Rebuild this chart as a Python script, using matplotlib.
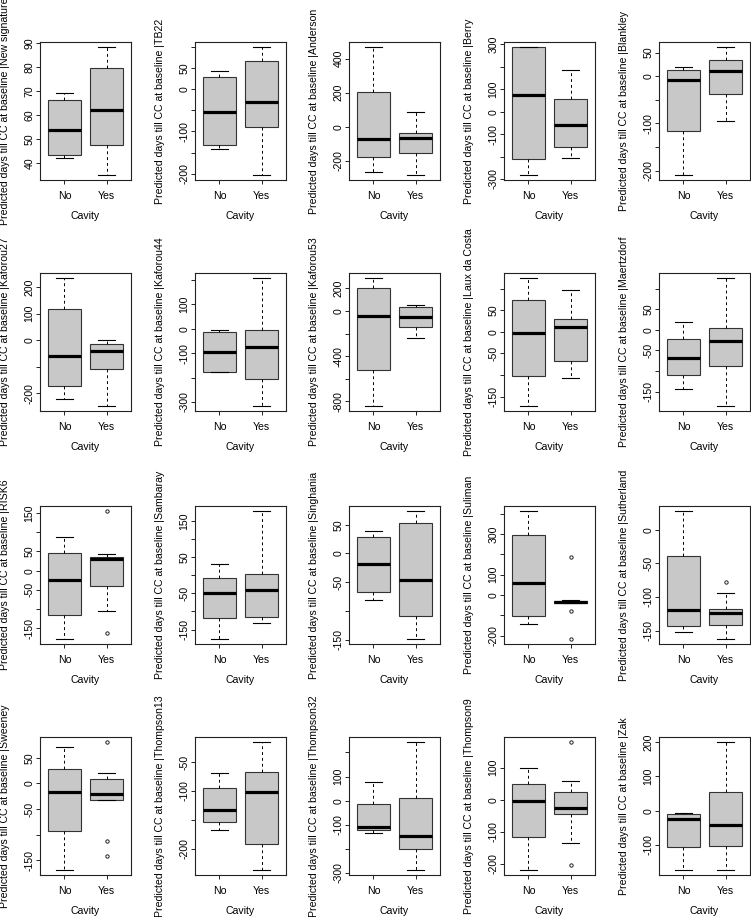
import numpy as np
import matplotlib
matplotlib.use('Agg')
import matplotlib.pyplot as plt

plt.rcParams['font.family'] = ['Liberation Sans', 'DejaVu Sans']

# nombres de las firmas
signatures = ['New signature', 'TB22', 'Anderson', 'Berry', 'Blankley',
              'Kaforou27', 'Kaforou44', 'Kaforou53', 'Laux da Costa', 'Maertzdorf',
              'RISK6', 'Sambaray', 'Singhania', 'Suliman', 'Sutherland',
              'Sweeney', 'Thompson13', 'Thompson32', 'Thompson9', 'Zak']
groups = ['No', 'Yes']

# estadisticas de las cajas, grupo "No"
no_low = [42.2, -140.5, -262, -282, -209, -222, -178, -841, -171.5, -143,
          -177.5, -175.7, -81, -143, -151.5, -168.8, -167.2, -135.2, -219.8, -172.3]
no_q1 = [43.1, -132.5, -174, -209, -115.6, -174, -175, -521, -102, -110,
         -116, -116.8, -67.4, -105, -142.6, -92.9, -154, -122.8, -115.6, -104.5]
no_med = [53.5, -54, -70, 73, -7.8, -60, -97, -41, -3, -69,
          -23.4, -49.6, -19, 57.7, -118.7, -16.2, -132.2, -107.6, -5.2, -24.2]
no_q3 = [66.0, 28.6, 207, 288, 12.8, 117, -14, 203, 73, -21,
         46.8, -6.4, 29, 296.5, -38.7, 27.3, -95.4, -13.8, 49, -9.7]
no_high = [69.2, 42.9, 467, 288, 19, 233, -5, 291, 124.6, 18.5,
           86.6, 29.5, 40, 412, 27.8, 71.4, -69, 78.6, 99, -7.7]

# estadisticas de las cajas, grupo "Yes"
yes_low = [35.0, -203, -281, -206, -94.3, -247, -316, -241, -107, -185,
           -105.6, -131.5, -148.8, -42, -162.4, -31.8, -236.2, -286.9, -134.4, -172.3]
yes_q1 = [47.4, -89, -150, -157, -38.3, -108, -207, -144, -68.5, -89,
          -40.7, -115.9, -108.7, -40, -141, -31.8, -190.8, -198.6, -43.8, -102.6]
yes_med = [62.1, -29, -66, -60, 12, -42, -73, -53, 11, -28,
           29.4, -41.4, -46, -36, -123.2, -20.8, -101.1, -146.2, -26, -42.6]
yes_q3 = [79.6, 68, -35, 55, 34.8, -14, -5, 32, 29, 5.6,
          35.5, 4.6, 52.3, -31, -117.2, 8.4, -67.2, 11, 22.9, 54.2]
yes_high = [88.2, 100, 90, 184, 61.7, 1, 208, 53, 97.7, 126,
            44, 176.7, 73.8, -27, -94.4, 20.1, -15.5, 242.8, 58.3, 199.4]
yes_out = [[], [], [], [], [], [], [], [], [], [],
           [155, -161], [], [], [188, -79, -216], [-78],
           [80.5, -111.7, -140.9], [], [], [180.2, -204.2], []]

# marcas del eje y y las que llevan etiqueta
y_ticks = [[40, 50, 60, 70, 80, 90],
           [-200, -150, -100, -50, 0, 50, 100],
           [-200, 0, 200, 400],
           [-300, -200, -100, 0, 100, 200, 300],
           [-200, -150, -100, -50, 0, 50],
           [-200, -100, 0, 100, 200],
           [-300, -200, -100, 0, 100, 200],
           [-800, -600, -400, -200, 0, 200],
           [-150, -100, -50, 0, 50, 100],
           [-150, -100, -50, 0, 50, 100],
           [-150, -100, -50, 0, 50, 100, 150],
           [-150, -100, -50, 0, 50, 100, 150],
           [-150, -100, -50, 0, 50],
           [-200, -100, 0, 100, 200, 300, 400],
           [-150, -100, -50, 0],
           [-150, -100, -50, 0, 50],
           [-200, -150, -100, -50],
           [-300, -200, -100, 0, 100, 200],
           [-200, -100, 0, 100],
           [-100, 0, 100, 200]]
y_shown = [[40, 50, 60, 70, 80, 90],
           [-200, -100, 0, 50],
           [-200, 0, 200, 400],
           [-300, -100, 0, 100, 300],
           [-200, -100, 0, 50],
           [-200, 0, 100, 200],
           [-300, -100, 0, 100],
           [-800, -400, 0, 200],
           [-150, -50, 0, 50],
           [-150, -50, 0, 50],
           [-150, -50, 0, 50, 150],
           [-150, -50, 50, 150],
           [-150, -50, 0, 50],
           [-200, 0, 100, 300],
           [-150, -100, -50, 0],
           [-150, -50, 0, 50],
           [-200, -100, -50],
           [-300, -100, 0, 100],
           [-200, -100, 0, 100],
           [-100, 0, 100, 200]]

W, H = 751, 917
fig = plt.figure(figsize=(W / 100, H / 100), dpi=100)

lefts = [40, 195, 349, 504, 659]
tops = [42, 273, 506, 737]
aw, ah = 91, 138
fs = 7.6

for i, name in enumerate(signatures):
    r, c = divmod(i, 5)
    ax = fig.add_axes([lefts[c] / W, 1 - (tops[r] + ah) / H, aw / W, ah / H])

    stats = [
        dict(whislo=no_low[i], q1=no_q1[i], med=no_med[i], q3=no_q3[i],
             whishi=no_high[i], fliers=[]),
        dict(whislo=yes_low[i], q1=yes_q1[i], med=yes_med[i], q3=yes_q3[i],
             whishi=yes_high[i], fliers=yes_out[i]),
    ]
    ax.bxp(stats, positions=[1, 2], widths=0.8, capwidths=0.4,
           patch_artist=True, manage_ticks=False,
           boxprops=dict(facecolor='#c8c8c8', edgecolor='#333333', linewidth=0.8),
           medianprops=dict(color='black', linewidth=2.3, solid_capstyle='butt'),
           whiskerprops=dict(color='black', linewidth=0.7, linestyle=(0, (3, 3))),
           capprops=dict(color='black', linewidth=0.8),
           flierprops=dict(marker='o', markersize=2.4, markerfacecolor='none',
                           markeredgecolor='#222222', markeredgewidth=0.7))

    # limites al estilo R (4% de extension)
    vals = [no_low[i], no_high[i], yes_low[i], yes_high[i]] + yes_out[i]
    lo, hi = min(vals), max(vals)
    pad = 0.04 * (hi - lo)
    ax.set_ylim(lo - pad, hi + pad)
    ax.set_xlim(0.42, 2.58)

    ax.set_xticks([1, 2])
    ax.set_xticklabels(groups, fontsize=fs)
    ax.set_yticks(y_ticks[i])
    ax.set_yticklabels([str(t) if t in y_shown[i] else '' for t in y_ticks[i]],
                       fontsize=fs, rotation=90, va='center')
    ax.tick_params(axis='both', length=3, width=0.7, color='#222222')
    ax.tick_params(axis='y', pad=1)
    ax.tick_params(axis='x', pad=5)
    for s in ax.spines.values():
        s.set_linewidth(0.8)
        s.set_color('#222222')

    ax.set_xlabel('Cavity', fontsize=fs)
    ax.xaxis.set_label_coords(0.5, -36 / ah)
    ax.xaxis.label.set_va('center')
    ax.set_ylabel('Predicted days till CC at baseline |' + name, fontsize=fs)
    ax.yaxis.set_label_coords(-35 / aw, 0.5)
    ax.yaxis.label.set_va('center')

fig.savefig('out.png', dpi=100)
